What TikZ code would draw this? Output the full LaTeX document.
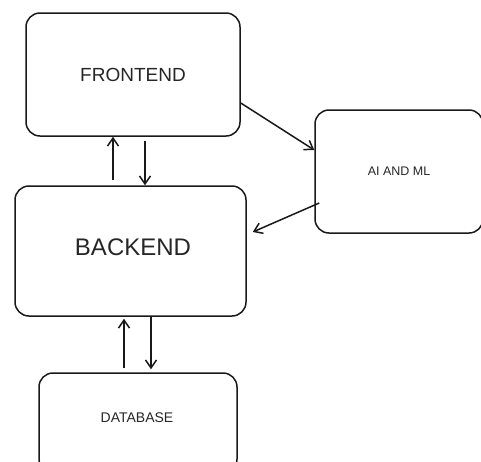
\documentclass[tikz,border=0pt]{standalone}
\usepackage{fontspec}
\setmainfont{Liberation Sans}
\usetikzlibrary{arrows.meta}
\begin{document}
\begin{tikzpicture}[x=1pt,y=-1pt,
  box/.style={draw=black!90, line width=1.5pt, rounded corners=14pt, inner sep=0pt},
  conn/.style={draw=black!90, line width=1.5pt, -{Straight Barb[length=8pt,width=11pt]}}]
\useasboundingbox (0,0) rectangle (481,461);
\node[box, minimum width=214pt, minimum height=123pt] (fe) at (133,74.5) {};
\node[font=\fontsize{19}{22}\selectfont, text=black!85] (fet) at (fe.center) {FRONTEND};
\node[box, minimum width=168pt, minimum height=123pt] (ai) at (399,171.5) {};
\node[font=\fontsize{12.5}{15}\selectfont, text=black!85] (ait) at (ai.center) {AI AND ML};
\node[box, minimum width=231pt, minimum height=130pt] (be) at (130.5,251) {};
\node[font=\fontsize{24}{28}\selectfont, text=black!85] (bet) at (133,247) {BACKEND};
\node[box, minimum width=198pt, minimum height=100pt] (db) at (138,423) {};
\node[font=\fontsize{14}{17}\selectfont, text=black!85] (dbt) at (137,418) {DATABASE};
% frontend <-> backend
\draw[conn] ([xshift=12pt,yshift=-4pt]fe.south) -- ([xshift=14.5pt]be.north);
\draw[conn] ([xshift=-17.5pt,yshift=5pt]be.north) -- ([xshift=-20pt]fe.south);
% frontend -> ai
\draw[conn] ([yshift=-28.5pt]fe.east) -- ([yshift=21.5pt]ai.west);
% ai -> backend
\draw[conn] ([xshift=5pt,yshift=-31.5pt]ai.west) -- ([xshift=6pt,yshift=19pt]be.east);
% backend <-> database
\draw[conn] ([xshift=20.5pt]be.south) -- ([xshift=13pt,yshift=3pt]db.north);
\draw[conn] ([xshift=-14pt,yshift=4pt]db.north) -- ([xshift=-6.5pt,yshift=-2pt]be.south);
\end{tikzpicture}
\end{document}
